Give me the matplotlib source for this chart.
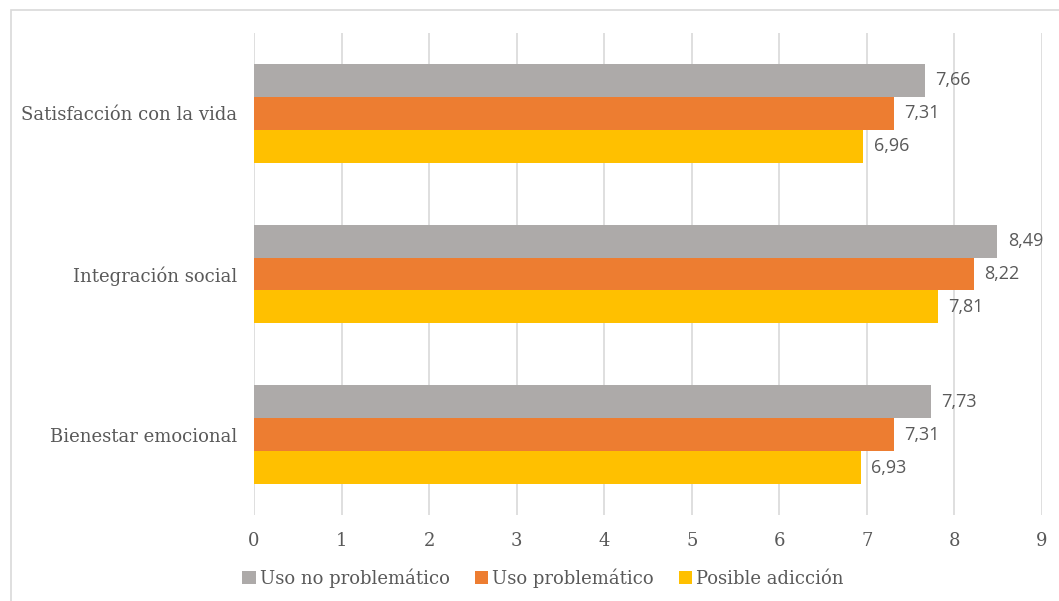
import matplotlib.pyplot as plt
import numpy as np
from matplotlib.patches import Rectangle, Patch

categorias = ['Satisfacción con la vida', 'Integración social', 'Bienestar emocional']
series = ['Uso no problemático', 'Uso problemático', 'Posible adicción']
uso_no_problematico = [7.66, 8.49, 7.73]
uso_problematico = [7.31, 8.22, 7.31]
posible_adiccion = [6.96, 7.81, 6.93]
colores = ['#ADAAA9', '#ED7D31', '#FFC000']

texto = '#595959'
serif = 'DejaVu Serif'
sans = 'Open Sans'

fig = plt.figure(figsize=(10.59, 6.01), dpi=100)
ax = fig.add_axes([254/1059, 1 - 515/601, (1042 - 254)/1059, (515 - 33)/601])

# marco exterior del grafico
fig.patches.append(Rectangle((11/1059, -0.05), 1.1, 1 - 10/601 + 0.05,
                             transform=fig.transFigure, fill=False,
                             edgecolor='#D9D9D9', linewidth=1.2))

y = np.arange(len(categorias))
h = 0.205
valores = [uso_no_problematico, uso_problematico, posible_adiccion]
for k, (nombre, vals, col) in enumerate(zip(series, valores, colores)):
    pos = y + (k - 1) * h
    ax.barh(pos, vals, height=h, color=col, label=nombre, zorder=3)
    for p, v in zip(pos, vals):
        ax.text(v + 0.12, p, f'{v:.2f}'.replace('.', ','), va='center', ha='left',
                fontsize=13, color=texto, family=sans)

ax.set_xlim(0, 9)
ax.set_ylim(len(categorias) - 0.5, -0.5)
ax.set_xticks(range(10))
ax.set_yticks(y)
ax.set_yticklabels(categorias, family=serif, fontsize=13, color=texto)
ax.tick_params(axis='x', labelsize=13, colors=texto, length=0, pad=12)
ax.tick_params(axis='y', length=0, pad=12)
for lbl in ax.get_xticklabels():
    lbl.set_family(serif)
ax.grid(axis='x', color='#D9D9D9', linewidth=1.2, zorder=0)
for s in ax.spines.values():
    s.set_visible(False)

handles = [Patch(facecolor=c, edgecolor='none') for c in colores]
leg = fig.legend(handles, series, loc='center', bbox_to_anchor=(543/1059, 1 - 578/601),
                 ncol=3, frameon=False, handlelength=0.75, handleheight=0.75,
                 handletextpad=0.2, columnspacing=1.4,
                 prop={'family': serif, 'size': 13})
for t in leg.get_texts():
    t.set_color(texto)

fig.savefig('out.png', dpi=100)
